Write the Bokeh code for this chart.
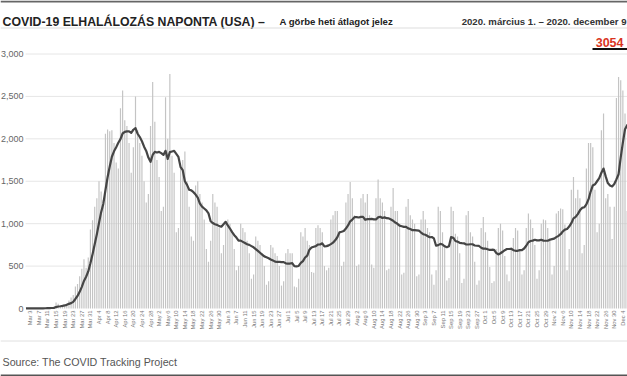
import pandas as pd
from math import pi
from bokeh.plotting import figure
from bokeh.models import (ColumnDataSource, Range1d, FixedTicker,
                          NumeralTickFormatter, Label, Arrow)
from bokeh.embed import file_html
from bokeh.resources import INLINE

# ---------------- data ----------------
dates = pd.date_range("2020-03-01", "2020-12-09", freq="D")

deaths = [
    1, 5, 1, 3, 2, 2, 2,                      # Mar 1-7
    4, 4, 5, 7, 8, 10, 12,                    # Mar 8-14
    70, 55, 25, 35, 45, 60, 95,               # Mar 15-21
    130, 160, 260, 290, 380, 470, 580,        # Mar 22-28
    480, 600, 930, 1040, 1200, 1300, 1500,    # Mar 29-Apr 4
    1380, 1280, 2060, 2110, 2090, 2100, 1950, # Apr 5-11
    1720, 1650, 2360, 2570, 2220, 2150, 1950, # Apr 12-18
    1600, 1900, 2500, 2100, 1950, 1800, 1500, # Apr 19-25
    1250, 1350, 2150, 2670, 2200, 1750, 1550, # Apr 26-May 2
    1150, 1200, 2490, 2000, 2765, 1800, 1600, # May 3-9
    900, 950, 1650, 1750, 1850, 1500, 1200,   # May 10-16
    850, 800, 1450, 1500, 1350, 1250, 1050,   # May 17-23
    700, 550, 800, 1350, 1250, 1200, 950,     # May 24-30
    650, 750, 1000, 1050, 1000, 900, 700,     # May 31-Jun 6
    450, 500, 1000, 950, 900, 800, 650,       # Jun 7-13
    350, 400, 850, 800, 750, 650, 500,        # Jun 14-20
    280, 320, 750, 720, 650, 620, 500,        # Jun 21-27
    270, 320, 650, 700, 650, 650, 260,        # Jun 28-Jul 4
    250, 350, 900, 850, 950, 800, 750,        # Jul 5-11
    430, 420, 950, 980, 950, 900, 500,        # Jul 12-18
    450, 480, 1050, 1100, 1150, 1150, 900,    # Jul 19-25
    500, 550, 1250, 1350, 1490, 1300, 1100,   # Jul 26-Aug 1
    500, 520, 1300, 1350, 1250, 1350, 1100,   # Aug 2-8
    520, 480, 1300, 1520, 1300, 1250, 1150,   # Aug 9-15
    450, 470, 1200, 1420, 1150, 1150, 1000,   # Aug 16-22
    400, 420, 1200, 1290, 1100, 1050, 1000,   # Aug 23-29
    380, 400, 1050, 1150, 1050, 950, 900,     # Aug 30-Sep 5
    400, 280, 450, 1200, 1150, 900, 750,      # Sep 6-12
    330, 360, 1200, 1150, 880, 850, 650,      # Sep 13-19
    300, 350, 1100, 1150, 900, 850, 550,      # Sep 20-26
    280, 330, 950, 1080, 900, 800, 490,       # Sep 27-Oct 3
    300, 320, 700, 950, 1000, 920, 620,       # Oct 4-10
    400, 320, 720, 830, 950, 920, 680,        # Oct 11-17
    400, 450, 950, 1120, 1050, 950, 750,      # Oct 18-24
    350, 450, 1000, 1050, 1040, 950, 830,     # Oct 25-31
    400, 500, 1120, 1150, 1180, 1170, 990,    # Nov 1-7
    450, 700, 1400, 1550, 1300, 1400, 1300,   # Nov 8-14
    650, 750, 1650, 1950, 1950, 1900, 1400,   # Nov 15-21
    900, 1000, 2100, 2300, 1300, 1350, 1200,  # Nov 22-28
    820, 1200, 2480, 2730, 2690, 2570, 2300,  # Nov 29-Dec 5
    1150, 1400, 2550, 3054,                   # Dec 6-9
]

y_ticks = [0, 500, 1000, 1500, 2000, 2500, 3000]
grid_values = [500, 1000, 1500, 2000, 2500, 3000]
tick_days = list(range(2, len(dates), 4))
tick_labels = [f"{dates[i]:%b} {dates[i].day}" for i in tick_days]

title_text = "COVID-19 ELHALÁLOZÁS NAPONTA (USA) –"
subtitle_text = "A görbe heti átlagot jelez"
period_text = "2020. március 1. – 2020. december 9"
last_value_text = str(deaths[-1])
source_text = "Source: The COVID Tracking Project"

# ---------------- derived ----------------
day = list(range(len(dates)))
avg = pd.Series(deaths, dtype=float).rolling(7, min_periods=1).mean().tolist()
src = ColumnDataSource(dict(day=day, deaths=deaths, avg=avg))

W, H = 627, 376
# page layout (px): day 0 at x=25.5, 2.147 px/day; value 0 at y=308, 3000 at y=53.5
X0, DX = 25.5, 2.147
Y0, DY = 308.0, 254.5 / 3000.0

p = figure(width=W, height=H, output_backend="svg", toolbar_location=None,
           x_range=Range1d(-X0 / DX, (W - X0) / DX),
           y_range=Range1d(-(H - Y0) / DY, Y0 / DY),
           min_border_left=0, min_border_right=0,
           min_border_top=0, min_border_bottom=0,
           outline_line_color=None, background_fill_color="white",
           border_fill_color="white")
p.xgrid.visible = False
p.ygrid.visible = False

# gridlines start at the first bar, like the reference
p.segment(x0=[-0.2] * len(grid_values), x1=[300] * len(grid_values),
          y0=grid_values, y1=grid_values, line_color="#e6e6e6", line_width=1)

p.vbar(x="day", top="deaths", bottom=0, width=0.55, source=src,
       fill_color="#c4c4c4", line_color=None)
p.line(x="day", y="avg", source=src, line_color="#454545", line_width=2.2,
       line_join="round")

# y axis sits inside the frame, just left of the first bar
ya = p.yaxis[0]
ya.fixed_location = -0.25
ya.ticker = FixedTicker(ticks=y_ticks)
ya.formatter = NumeralTickFormatter(format="0,0")
ya.axis_line_color = None
ya.major_tick_line_color = None
ya.minor_tick_line_color = None
ya.major_tick_out = 0
ya.major_tick_in = 0
ya.major_label_standoff = 2
ya.major_label_text_font = "Liberation Sans"
ya.major_label_text_font_size = "9px"
ya.major_label_text_color = "#666666"

xa = p.xaxis[0]
xa.fixed_location = 0
xa.ticker = FixedTicker(ticks=tick_days)
xa.major_label_overrides = {d: lab for d, lab in zip(tick_days, tick_labels)}
xa.major_label_orientation = pi / 2
xa.axis_line_color = None
xa.major_tick_line_color = None
xa.minor_tick_line_color = None
xa.major_tick_out = 0
xa.major_tick_in = 0
xa.major_label_standoff = 2
xa.major_label_text_font = "Liberation Sans"
xa.major_label_text_font_size = "5.8px"
xa.major_label_text_color = "#777777"


def sy(page_y):
    # screen units measured from the frame bottom (frame = whole canvas)
    return H - page_y


def text(t, px, py, size, color="#222222", style="bold", align="left"):
    p.add_layout(Label(x=px, y=sy(py), x_units="screen", y_units="screen",
                       text=t, text_font="Liberation Sans", text_font_size=size,
                       text_font_style=style, text_color=color,
                       text_align=align, text_baseline="alphabetic"))


def hline(py, px0, px1, color, width):
    p.add_layout(Arrow(end=None, x_start=px0, x_end=px1,
                       y_start=sy(py), y_end=sy(py),
                       start_units="screen", end_units="screen",
                       line_color=color, line_width=width))


hline(1, 0, W, "#666666", 2)
text(title_text, 2, 21, "12.3px")
text(subtitle_text, 279, 21, "9.6px")
text(period_text, 626, 21, "9.6px", color="#333333", align="right")
hline(27.5, 0, W, "#dddddd", 1)
text(last_value_text, 623, 42, "12.5px", color="#d9341f", align="right")
hline(48.5, 592, W, "#111111", 2)
hline(340.5, 0, W, "#e0e0e0", 1)
text(source_text, 2, 361.5, "10.7px", color="#555555", style="normal")
hline(375, 0, W, "#555555", 2)

open("out.html", "w").write(file_html(p, INLINE))
